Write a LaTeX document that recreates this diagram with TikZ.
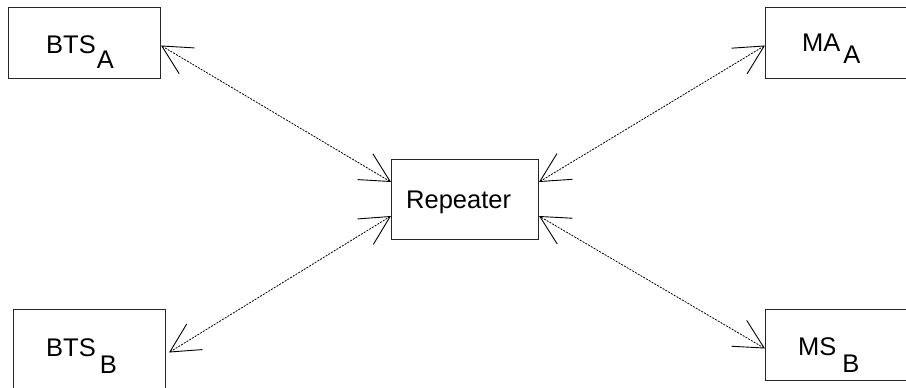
\documentclass[tikz,border=0pt]{standalone}
\usepackage{fontspec}
\setmainfont{Liberation Sans}
\usetikzlibrary{arrows.meta}
\begin{document}
\begin{tikzpicture}[x=1pt,y=-1pt,
  box/.style={draw=black!85,line width=1pt,rectangle,inner sep=0pt,anchor=north west},
  lbl/.style={anchor=base west,inner sep=0pt,font=\fontsize{25.5}{30}\selectfont},
  link/.style={line width=0.8pt,dash pattern=on 2pt off 1.2pt,
    {Straight Barb[length=29pt,width=30pt,line width=0.9pt]}-{Straight Barb[length=29pt,width=30pt,line width=0.9pt]}}]
\useasboundingbox (0,0) rectangle (906,388);
\clip (0,0) rectangle (906,388);
% boxes
\node[box,minimum width=152pt,minimum height=71pt] (btsa) at (8,7) {};
\node[box,minimum width=147pt,minimum height=80pt] (rep) at (391,159) {};
\node[box,minimum width=165pt,minimum height=71pt] (maa) at (765,7) {};
\node[box,minimum width=152pt,minimum height=91pt] (btsb) at (13,309) {};
\node[box,minimum width=165pt,minimum height=71pt] (msb) at (765,309) {};
% labels
\node[lbl] (tbtsa) at (46,53) {BTS\kern1pt\raisebox{-15pt}{A}};
\node[lbl] (trep) at (406,208.5) {Repeater};
\node[lbl] (tmaa) at (802,52) {MA\kern3pt\raisebox{-12pt}{A}};
\node[lbl] (tbtsb) at (46,356) {BTS\kern4pt\raisebox{-17pt}{B}};
\node[lbl] (tmsb) at (798,355) {MS\kern6pt\raisebox{-17pt}{B}};
% connection points
\coordinate (pa) at ([yshift=-2.5pt]btsa.east);
\coordinate (pma) at ([yshift=-2.5pt]maa.west);
\coordinate (pb) at ([xshift=3pt,yshift=2.5pt]btsb.east);
\coordinate (pmb) at ([yshift=-3.5pt]msb.west);
\coordinate (r1) at ([yshift=-23pt]rep.north west);
\coordinate (r2) at ([yshift=24pt]rep.south west);
\coordinate (r3) at ([yshift=-23pt]rep.north east);
\coordinate (r4) at ([yshift=24pt]rep.south east);
% connectors
\draw[link] (pa) -- (r1);
\draw[link] (pb) -- (r2);
\draw[link] (pma) -- (r3);
\draw[link] (pmb) -- (r4);
\end{tikzpicture}
\end{document}
